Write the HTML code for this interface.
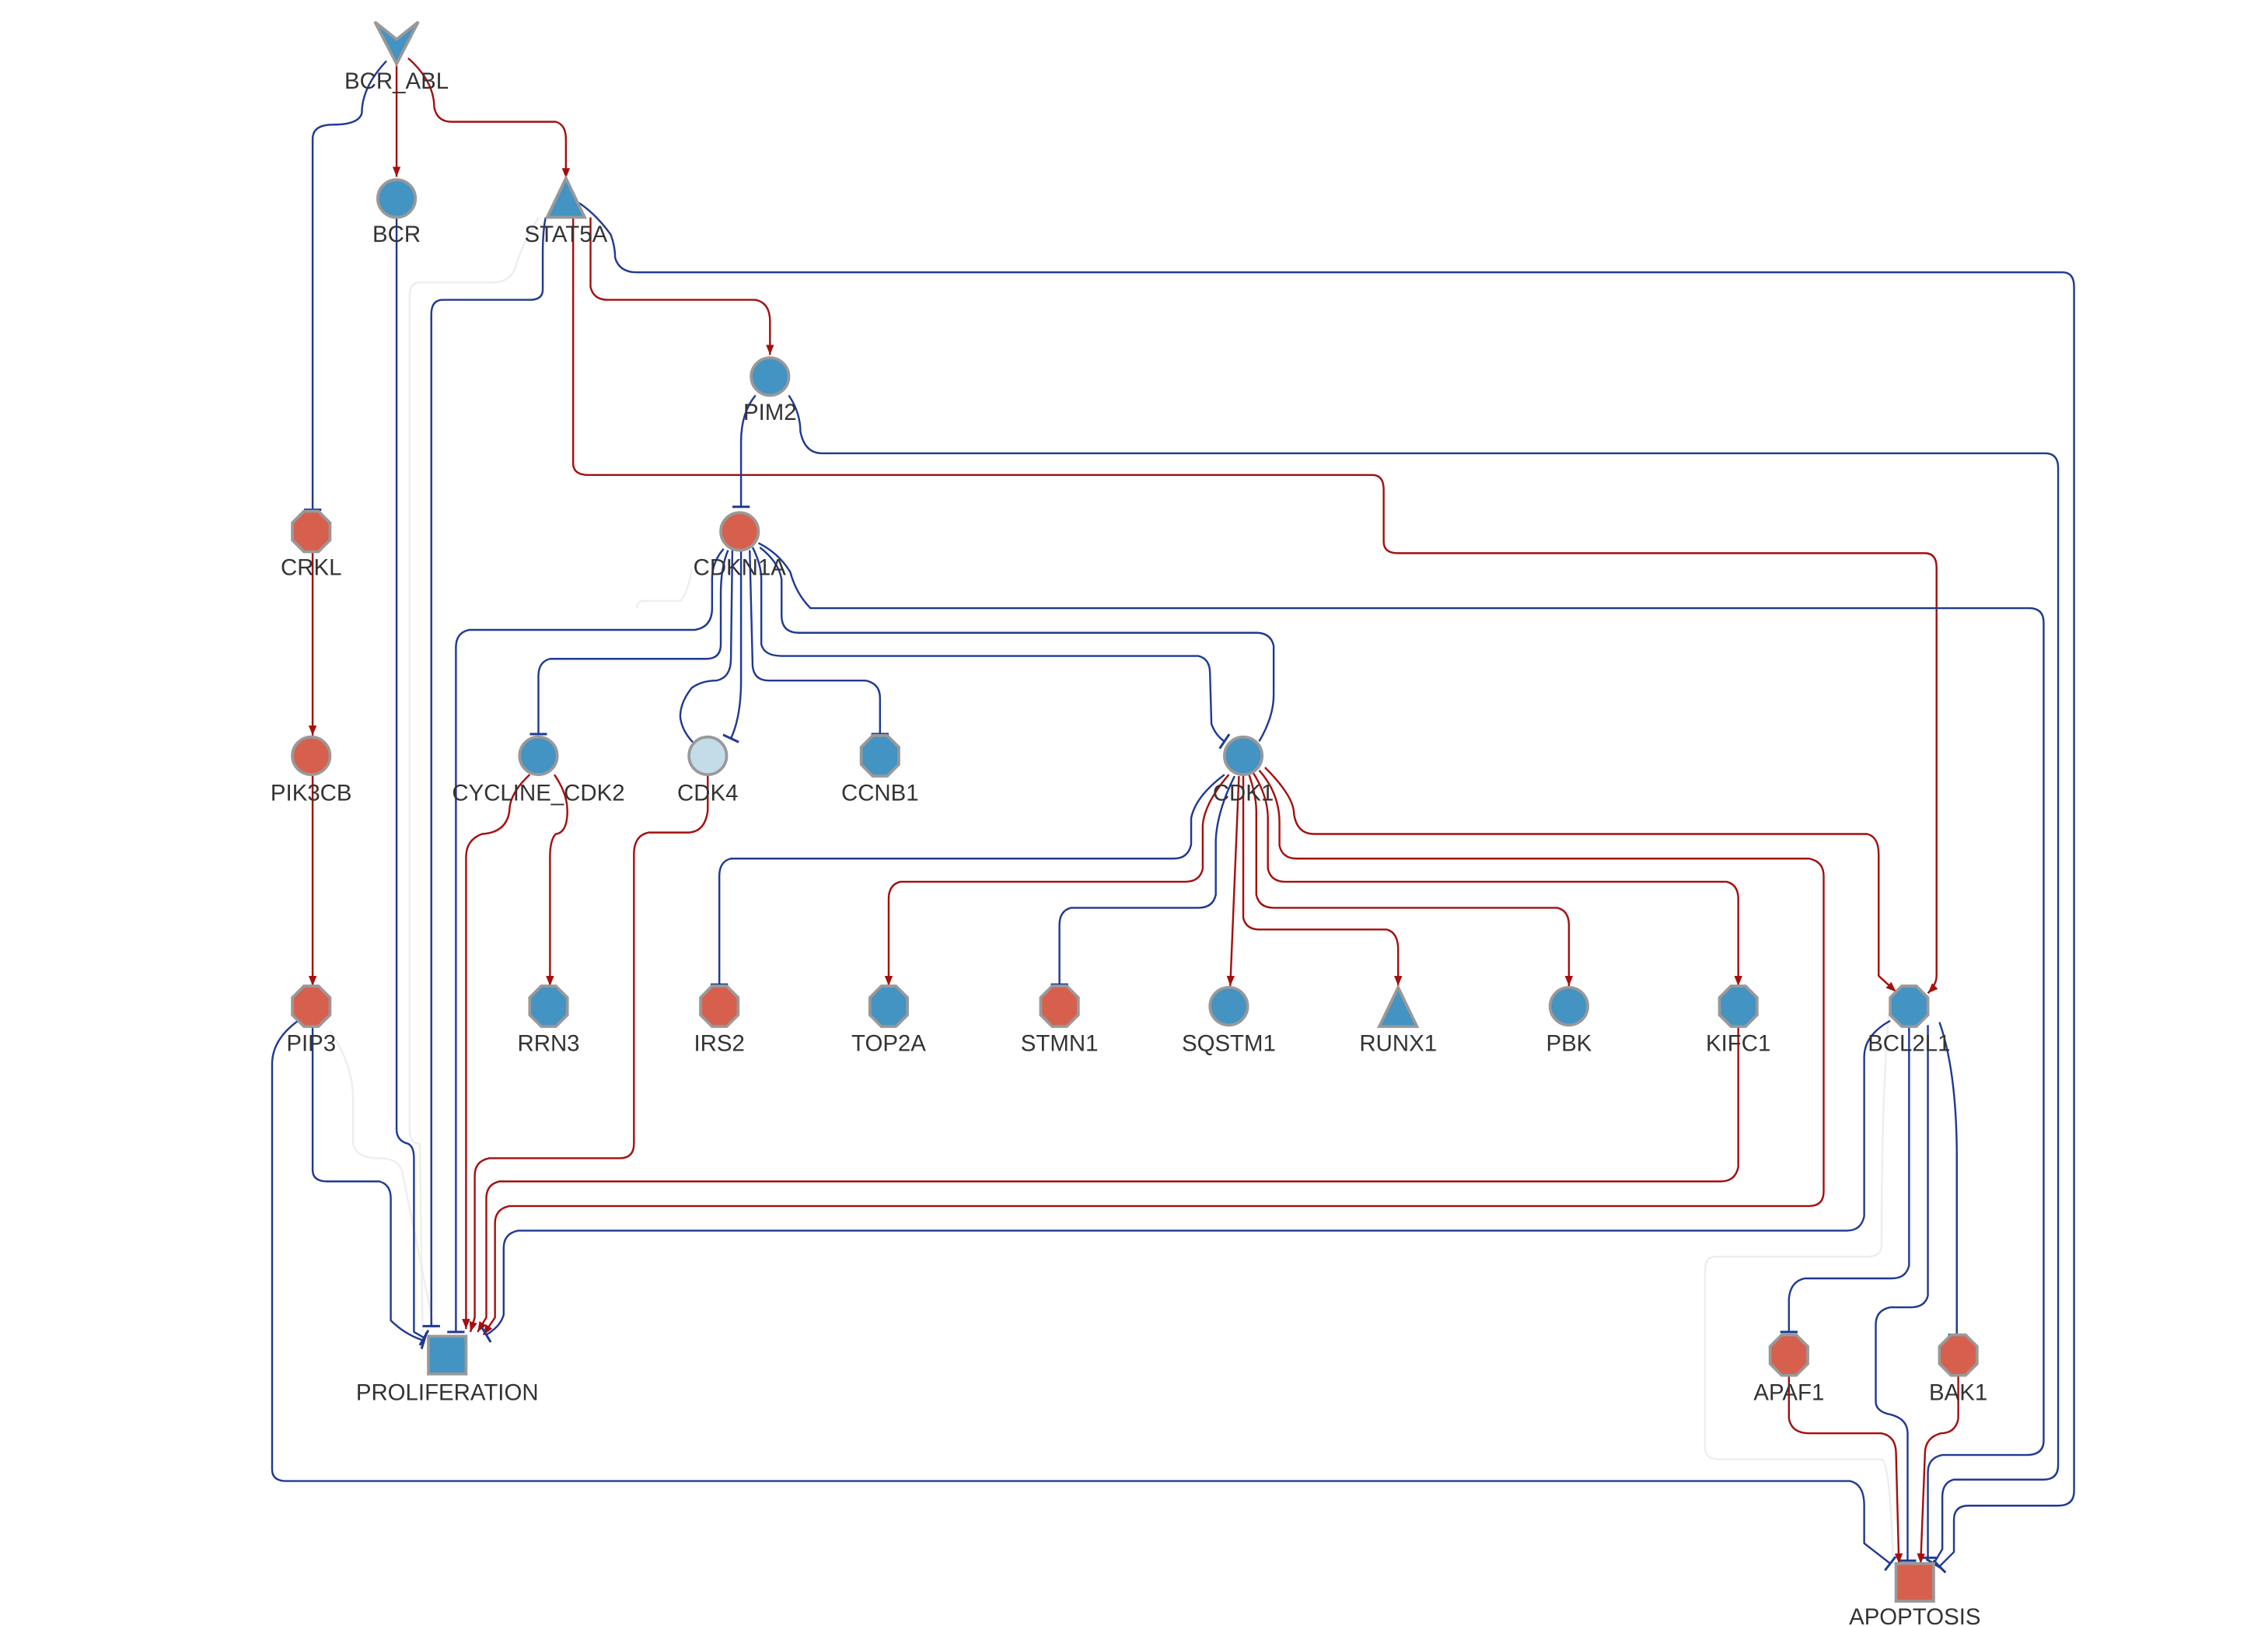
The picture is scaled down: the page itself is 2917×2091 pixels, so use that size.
<!DOCTYPE html>
<html><head><meta charset="utf-8"><style>
html,body{margin:0;padding:0;background:#fff;}
svg{display:block;}
text{font-family:"Liberation Sans","DejaVu Sans",sans-serif;font-size:15.8px;fill:#333;text-anchor:middle;}
.b{fill:none;stroke:#1f3a93;stroke-width:1.3;stroke-linejoin:round;}
.r{fill:none;stroke:#a50f0f;stroke-width:1.3;stroke-linejoin:round;}
.g{fill:none;stroke:#eeeeee;stroke-width:1.3;stroke-linejoin:round;}
.nb{fill:#4393c3;stroke:#999;stroke-width:2;}
.nr{fill:#d6604d;stroke:#999;stroke-width:2;}
.nl{fill:#c4dbe8;stroke:#999;stroke-width:2;}
</style></head><body>
<svg width="2917" height="2091" viewBox="0 0 1567 1123" xmlns="http://www.w3.org/2000/svg">
<defs>
<marker id="a" viewBox="0 0 10 10" refX="10" refY="5" markerWidth="7" markerHeight="7" orient="auto" markerUnits="userSpaceOnUse"><path d="M0,1 L10,5 L0,9 z" fill="#a50f0f"/></marker>
<marker id="t" viewBox="0 0 4 12" refX="2" refY="6" markerWidth="4" markerHeight="12" orient="auto" markerUnits="userSpaceOnUse"><path d="M2,0 L2,12" stroke="#1f3a93" stroke-width="1.6"/></marker>
</defs>
<path class="g" d="M372,150 Q360,170 356,185 Q352,195 340,195 L290,195 Q283,195 283,205 L283,780 Q283,790 290,790 L292,920"/>
<path class="g" d="M478,393 Q475,410 470,415 L445,415 Q440,415 440,420"/>
<path class="g" d="M228,712 Q244,735 244,760 L244,790 Q246,800 262,800 Q276,800 278,810 L300,918"/>
<path class="g" d="M1305,700 Q1300,760 1300,860 Q1300,868 1290,868 L1185,868 Q1178,868 1178,878 L1178,1000 Q1178,1008 1188,1008 L1300,1008 Q1306,1010 1308,1080"/>
<path class="b" d="M267,42 Q250,60 250,78 Q248,86 230,86 Q216,86 216,96 L216,352" marker-end="url(#t)"/>
<path class="r" d="M274,45 L274,122" marker-end="url(#a)"/>
<path class="r" d="M282,40 Q300,56 300,74 Q302,84 312,84 L384,84 Q391,86 391,96 L391,123" marker-end="url(#a)"/>
<path class="b" d="M274,150 L274,780 Q274,788 282,790 Q286,792 286,800 L286,920 L293,924" marker-end="url(#t)"/>
<path class="b" d="M377,150 Q375,160 375,175 L375,200 Q375,207 366,207 L306,207 Q298,207 298,217 L298,916" marker-end="url(#t)"/>
<path class="r" d="M396,150 L396,320 Q396,328 407,328 L948,328 Q956,328 956,338 L956,374 Q956,382 966,382 L1330,382 Q1338,382 1338,392 L1338,674 Q1338,680 1332,686" marker-end="url(#a)"/>
<path class="r" d="M408,150 L408,198 Q410,207 420,207 L522,207 Q532,209 532,222 L532,245" marker-end="url(#a)"/>
<path class="b" d="M400,140 Q412,148 422,162 Q425,170 425,178 Q428,188 440,188 L1425,188 Q1433,188 1433,198 L1433,1030 Q1433,1040 1422,1040 L1360,1040 Q1350,1040 1350,1050 L1350,1072 L1340,1082" marker-end="url(#t)"/>
<path class="b" d="M522,273 Q512,285 512,305 L512,350" marker-end="url(#t)"/>
<path class="b" d="M545,273 Q553,285 553,298 Q556,313 568,313 L1413,313 Q1422,313 1422,323 L1422,1012 Q1422,1022 1412,1022 L1350,1022 Q1342,1024 1342,1034 L1342,1070 L1336,1080" marker-end="url(#t)"/>
<path class="r" d="M216,380 L216,508" marker-end="url(#a)"/>
<path class="r" d="M216,536 L216,681" marker-end="url(#a)"/>
<path class="b" d="M216,708 L216,808 Q216,816 226,816 L262,816 Q270,818 270,828 L270,912 Q280,922 293,926" marker-end="url(#t)"/>
<path class="b" d="M206,705 Q188,718 188,735 L188,1015 Q188,1023 198,1023 L1278,1023 Q1288,1025 1288,1040 L1288,1066 L1306,1080" marker-end="url(#t)"/>
<path class="b" d="M500,379 Q492,388 492,400 L492,420 Q492,433 480,435 L324,435 Q315,437 315,447 L315,920" marker-end="url(#t)"/>
<path class="b" d="M503,380 Q498,392 498,410 L498,445 Q498,455 488,455 L380,455 Q372,457 372,467 L372,507" marker-end="url(#t)"/>
<path class="b" d="M506,380 L505,455 Q505,468 495,470 Q485,470 478,475 Q470,485 470,495 Q471,505 480,514"/>
<path class="b" d="M512,380 L512,470 Q512,495 505,510" marker-end="url(#t)"/>
<path class="b" d="M518,380 L520,460 Q521,470 531,470 L598,470 Q608,472 608,482 L608,507" marker-end="url(#t)"/>
<path class="b" d="M520,378 Q526,390 526,400 L526,445 Q528,453 540,453 L828,453 Q836,455 836,465 L837,500 Q840,508 846,512" marker-end="url(#t)"/>
<path class="b" d="M870,512 Q880,495 880,480 L880,446 Q878,437 868,437 L552,437 Q540,437 540,425 L540,400 Q538,388 525,378"/>
<path class="b" d="M524,375 Q538,382 546,395 Q550,410 560,420 L1402,420 Q1412,420 1412,430 L1412,995 Q1412,1005 1400,1005 L1342,1005 Q1332,1007 1332,1017 L1332,1076" marker-end="url(#t)"/>
<path class="r" d="M366,535 Q352,548 352,560 Q350,575 333,576 Q322,580 322,592 L322,918" marker-end="url(#a)"/>
<path class="r" d="M383,535 Q392,548 392,560 Q392,575 384,576 Q380,580 380,592 L380,681" marker-end="url(#a)"/>
<path class="r" d="M489,536 L489,560 Q487,575 475,575 L448,575 Q438,577 438,590 L438,790 Q438,800 428,800 L338,800 Q328,802 328,812 L328,910 L325,920" marker-end="url(#a)"/>
<path class="b" d="M846,535 Q826,550 823,565 L823,583 Q821,593 811,593 L505,593 Q497,595 497,605 L497,680" marker-end="url(#t)"/>
<path class="r" d="M849,535 Q832,555 831,570 L831,600 Q829,609 819,609 L622,609 Q614,611 614,621 L614,681" marker-end="url(#a)"/>
<path class="b" d="M853,536 Q841,560 840,580 L840,618 Q838,627 828,627 L740,627 Q732,629 732,639 L732,680" marker-end="url(#t)"/>
<path class="r" d="M856,536 L850,681" marker-end="url(#a)"/>
<path class="r" d="M859,536 L859,634 Q861,642 870,642 L958,642 Q966,644 966,656 L966,681" marker-end="url(#a)"/>
<path class="r" d="M863,535 Q868,550 868,560 L868,618 Q870,627 880,627 L1076,627 Q1084,629 1084,639 L1084,681" marker-end="url(#a)"/>
<path class="r" d="M866,534 Q876,550 876,565 L876,600 Q878,609 888,609 L1193,609 Q1201,611 1201,621 L1201,681" marker-end="url(#a)"/>
<path class="r" d="M870,532 Q884,548 884,568 L884,584 Q886,593 896,593 L1250,593 Q1260,595 1260,605 L1260,823 Q1260,833 1250,833 L352,833 Q342,835 342,845 L342,910 L334,922" marker-end="url(#a)"/>
<path class="r" d="M874,530 Q894,550 894,562 Q896,576 908,576 L1290,576 Q1298,578 1298,590 L1298,674 L1310,685" marker-end="url(#a)"/>
<path class="r" d="M1201,708 L1201,806 Q1199,816 1189,816 L345,816 Q336,818 336,828 L336,910 L330,920" marker-end="url(#a)"/>
<path class="b" d="M1306,705 Q1288,715 1288,730 L1288,840 Q1286,850 1276,850 L358,850 Q348,852 348,862 L348,908 Q346,916 336,922" marker-end="url(#t)"/>
<path class="b" d="M1319,708 L1319,874 Q1317,883 1307,883 L1247,883 Q1237,885 1236,897 L1236,920" marker-end="url(#t)"/>
<path class="b" d="M1332,708 L1332,895 Q1330,903 1320,903 L1306,903 Q1296,905 1296,915 L1296,968 Q1296,975 1306,977 Q1318,980 1318,990 L1318,1078" marker-end="url(#t)"/>
<path class="b" d="M1340,706 Q1352,740 1352,800 L1352,922" marker-end="url(#t)"/>
<path class="r" d="M1236,950 L1236,980 Q1238,990 1250,990 L1300,990 Q1310,992 1310,1004 L1312,1080" marker-end="url(#a)"/>
<path class="r" d="M1353,950 L1353,980 Q1351,990 1341,990 Q1330,993 1330,1004 L1327,1080" marker-end="url(#a)"/>
<path class="nb" d="M259,15 L274,27 L289,15 L274,44 z"/>
<circle class="nb" cx="274" cy="137" r="13"/>
<path class="nb" d="M391,123 L404,150 L378,150 z"/>
<circle class="nb" cx="532" cy="260" r="13"/>
<circle class="nr" cx="511" cy="367" r="13"/>
<circle class="nr" cx="215" cy="522" r="13"/>
<circle class="nb" cx="372" cy="522" r="13"/>
<circle class="nl" cx="489" cy="522" r="13"/>
<circle class="nb" cx="859" cy="522" r="13"/>
<circle class="nb" cx="849" cy="695" r="13"/>
<circle class="nb" cx="1084" cy="695" r="13"/>
<path class="nb" d="M966,682 L979,709 L953,709 z"/>
<rect class="nb" x="296" y="923" width="26" height="26"/>
<rect class="nr" x="1310" y="1080" width="26" height="26"/>
<path class="nr" d="M210,353 L220,353 L228,361 L228,373 L220,381 L210,381 L202,373 L202,361 z"/>
<path class="nb" d="M603,508 L613,508 L621,516 L621,528 L613,536 L603,536 L595,528 L595,516 z"/>
<path class="nr" d="M210,681 L220,681 L228,689 L228,701 L220,709 L210,709 L202,701 L202,689 z"/>
<path class="nb" d="M374,681 L384,681 L392,689 L392,701 L384,709 L374,709 L366,701 L366,689 z"/>
<path class="nr" d="M492,681 L502,681 L510,689 L510,701 L502,709 L492,709 L484,701 L484,689 z"/>
<path class="nb" d="M609,681 L619,681 L627,689 L627,701 L619,709 L609,709 L601,701 L601,689 z"/>
<path class="nr" d="M727,681 L737,681 L745,689 L745,701 L737,709 L727,709 L719,701 L719,689 z"/>
<path class="nb" d="M1196,681 L1206,681 L1214,689 L1214,701 L1206,709 L1196,709 L1188,701 L1188,689 z"/>
<path class="nb" d="M1314,681 L1324,681 L1332,689 L1332,701 L1324,709 L1314,709 L1306,701 L1306,689 z"/>
<path class="nr" d="M1231,922 L1241,922 L1249,930 L1249,942 L1241,950 L1231,950 L1223,942 L1223,930 z"/>
<path class="nr" d="M1348,922 L1358,922 L1366,930 L1366,942 L1358,950 L1348,950 L1340,942 L1340,930 z"/>
<text x="274" y="61">BCR_ABL</text>
<text x="274" y="167">BCR</text>
<text x="391" y="167">STAT5A</text>
<text x="532" y="290">PIM2</text>
<text x="215" y="397">CRKL</text>
<text x="511" y="397">CDKN1A</text>
<text x="215" y="553">PIK3CB</text>
<text x="372" y="553">CYCLINE_CDK2</text>
<text x="489" y="553">CDK4</text>
<text x="608" y="553">CCNB1</text>
<text x="859" y="553">CDK1</text>
<text x="215" y="726">PIP3</text>
<text x="379" y="726">RRN3</text>
<text x="497" y="726">IRS2</text>
<text x="614" y="726">TOP2A</text>
<text x="732" y="726">STMN1</text>
<text x="849" y="726">SQSTM1</text>
<text x="966" y="726">RUNX1</text>
<text x="1084" y="726">PBK</text>
<text x="1201" y="726">KIFC1</text>
<text x="1319" y="726">BCL2L1</text>
<text x="309" y="967">PROLIFERATION</text>
<text x="1236" y="967">APAF1</text>
<text x="1353" y="967">BAK1</text>
<text x="1323" y="1122">APOPTOSIS</text>
</svg>
</body></html>
